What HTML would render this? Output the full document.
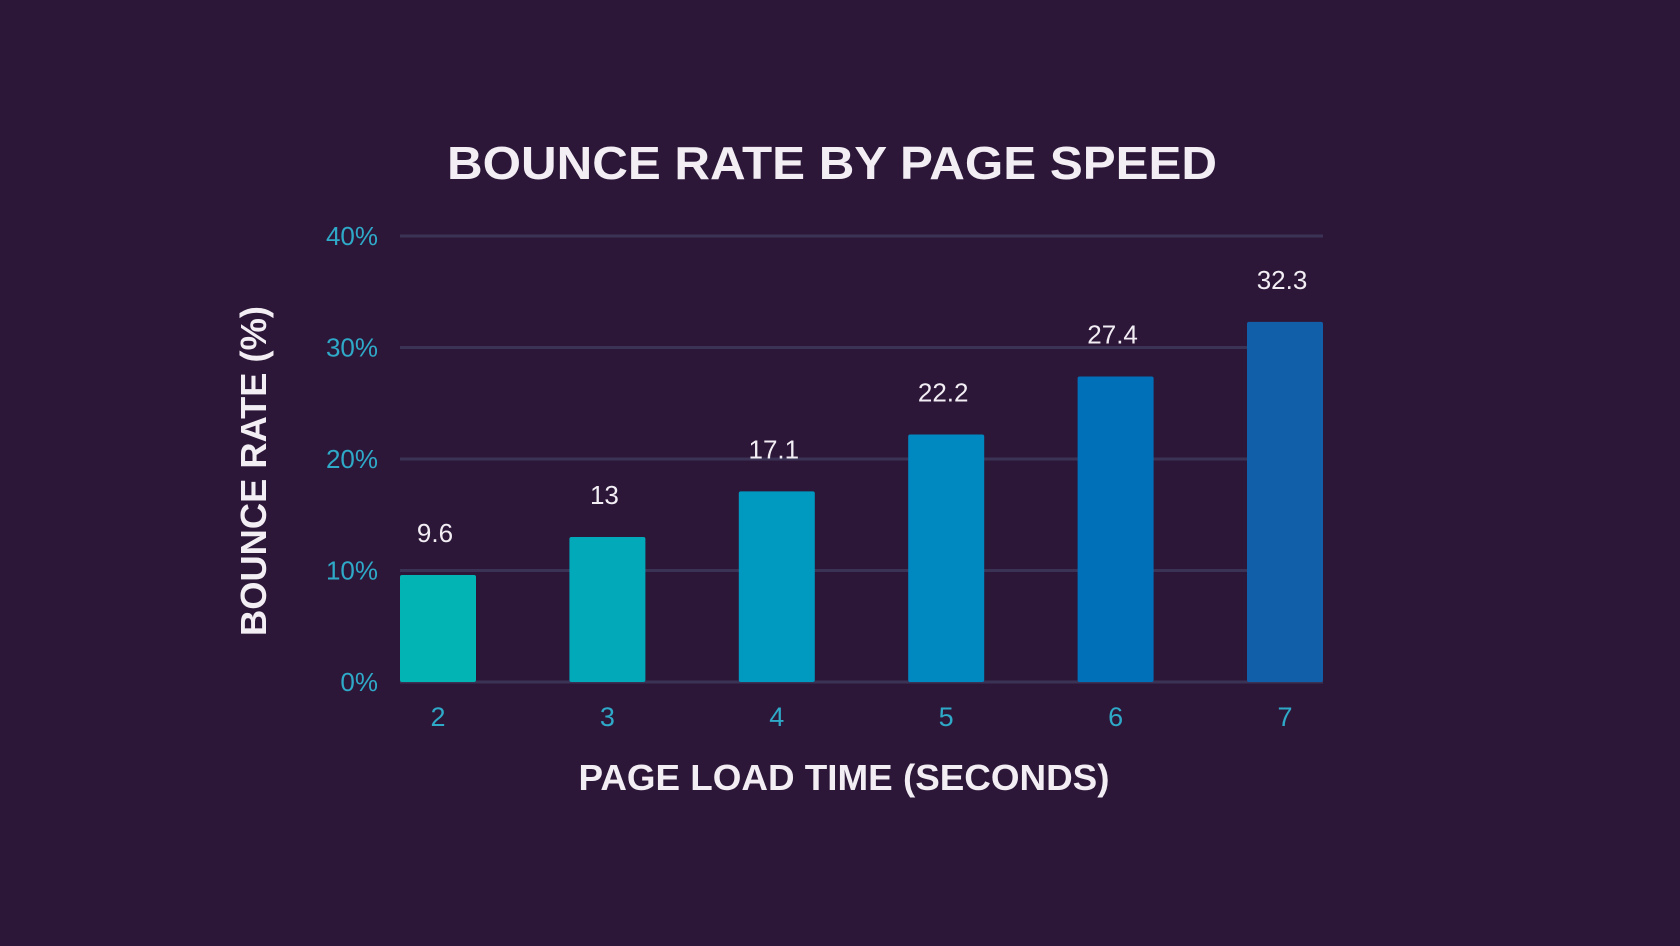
<!DOCTYPE html>
<html><head><meta charset="utf-8"><style>
html,body{margin:0;padding:0;background:#2d1739;}
svg{display:block;font-family:"Liberation Sans",sans-serif;}
</style></head><body>
<svg id="chart" width="1680" height="946" viewBox="0 0 1680 946">
<rect width="1680" height="946" fill="#2d1739"/>
<text x="832" y="179" text-anchor="middle" font-size="46" font-weight="bold" fill="#f2eef4" textLength="770" lengthAdjust="spacingAndGlyphs">BOUNCE RATE BY PAGE SPEED</text>
<g id="grid"></g>
<g id="yticks"></g>
<g id="bars"></g>
<g id="xticks"></g>
<text x="844" y="790" text-anchor="middle" font-size="36" font-weight="bold" fill="#f2eef4" textLength="531" lengthAdjust="spacingAndGlyphs">PAGE LOAD TIME (SECONDS)</text>
<text transform="translate(266,471) rotate(-90)" text-anchor="middle" font-size="36" font-weight="bold" fill="#f2eef4" textLength="330" lengthAdjust="spacingAndGlyphs">BOUNCE RATE (%)</text>
</svg>
<script>
const categories = ["2","3","4","5","6","7"];
const values = [9.6, 13, 17.1, 22.2, 27.4, 32.3];
const valueLabels = ["9.6","13","17.1","22.2","27.4","32.3"];
const yTicks = [0, 10, 20, 30, 40];
const yTickLabels = ["0%","10%","20%","30%","40%"];
const colors = ["#02b5b4","#01a9b9","#0099bf","#0088c1","#0071b9","#115ea9"];

const NS = "http://www.w3.org/2000/svg";
const plotL = 400, plotR = 1323, y0 = 682, y40 = 236;
const yMax = 40;
function yScale(v){ return y0 - (v / yMax) * (y0 - y40); }
const step = (plotR - plotL - 76) / (categories.length - 1);
const barW = 76;
function xLeft(i){ return plotL + i * step; }
function mk(tag, attrs){ const e = document.createElementNS(NS, tag); for (const k in attrs) e.setAttribute(k, attrs[k]); return e; }

const grid = document.getElementById('grid');
const yt = document.getElementById('yticks');
yTicks.forEach((t, i) => {
  const l = mk('line', {x1: plotL, x2: plotR, y1: yScale(t), y2: yScale(t), stroke: "#3a3355", "stroke-width": 3});
  
  
  grid.appendChild(l);
  const tx = mk('text', {x: 378, y: yScale(t) + 9, "text-anchor": "end", "font-size": 26, fill: "#2ea9c7"});
  
  
  tx.textContent = yTickLabels[i];
  yt.appendChild(tx);
});

const bars = document.getElementById('bars');
const xt = document.getElementById('xticks');
values.forEach((v, i) => {
  const x = xLeft(i), top = yScale(v);
  const r = mk('rect', {x: x, y: top, width: barW, height: y0 - top, fill: colors[i], rx: 2});
  
  
  bars.appendChild(r);
  const lb = mk('text', {x: x + barW / 2 - 3, y: top - 33, "text-anchor": "middle", "font-size": 26, fill: "#f2eef4"});
  
  
  lb.textContent = valueLabels[i];
  bars.appendChild(lb);
  const c = mk('text', {x: x + barW / 2, y: 726, "text-anchor": "middle", "font-size": 27, fill: "#2ea9c7"});
  
  
  c.textContent = categories[i];
  xt.appendChild(c);
});
</script>
</body></html>
